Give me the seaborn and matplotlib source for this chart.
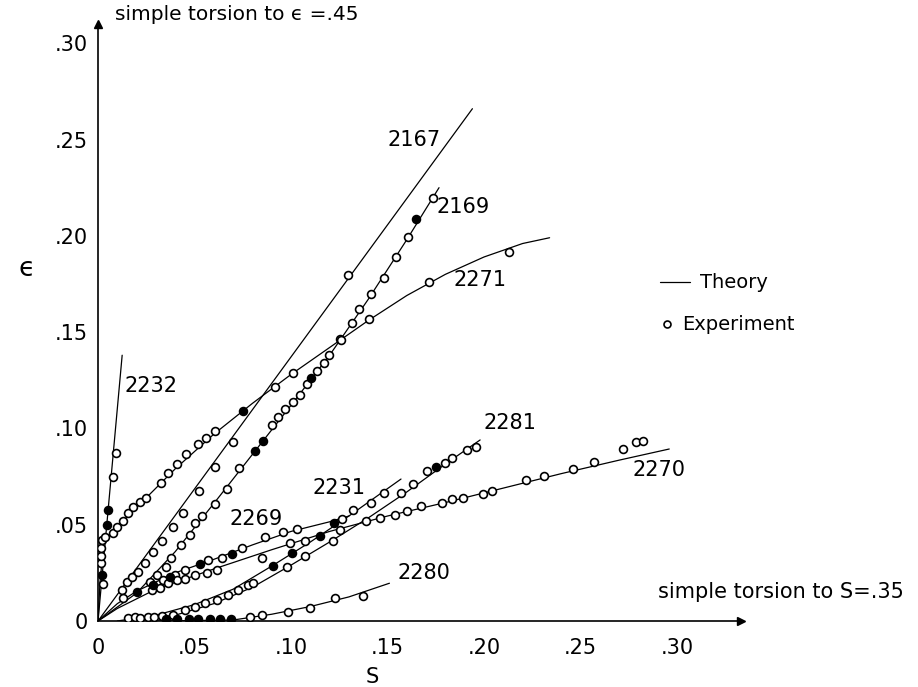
import numpy as np
import pandas as pd
import matplotlib
matplotlib.use("Agg")
import matplotlib.pyplot as plt
import seaborn as sns

# ---------------- data ----------------
# Theory curves: knot points
th_2232_x = [0.0, 0.0125]
th_2232_y = [0.0, 0.138]
th_2167_x = [0.0, 0.194]
th_2167_y = [0.0, 0.266]
th_2169_x = [0.0, 0.02, 0.04, 0.06, 0.08, 0.10, 0.12, 0.14, 0.16, 0.1767]
th_2169_y = [0.0, 0.0145, 0.036, 0.061, 0.0865, 0.112, 0.138, 0.167, 0.198, 0.225]
th_2271_x = [0.0, 0.001, 0.003, 0.008, 0.02, 0.04, 0.06, 0.08, 0.10, 0.12, 0.14, 0.16, 0.18, 0.20, 0.22, 0.234]
th_2271_y = [0.0, 0.020, 0.041, 0.047, 0.059, 0.079, 0.097, 0.113, 0.128, 0.142, 0.156, 0.169, 0.180, 0.189, 0.196, 0.199]
th_2269_x = [0.0, 0.01, 0.02, 0.04, 0.06, 0.08, 0.10, 0.12, 0.13]
th_2269_y = [0.0, 0.009, 0.0155, 0.025, 0.032, 0.0395, 0.0465, 0.0515, 0.0545]
th_2270_x = [0.0, 0.01, 0.03, 0.06, 0.09, 0.12, 0.15, 0.18, 0.21, 0.24, 0.27, 0.296]
th_2270_y = [0.0, 0.0065, 0.0165, 0.027, 0.037, 0.0465, 0.0545, 0.0615, 0.069, 0.0765, 0.0835, 0.0893]
th_2231_x = [0.01, 0.03, 0.05, 0.07, 0.09, 0.11, 0.13, 0.157]
th_2231_y = [0.0, 0.003, 0.0085, 0.0165, 0.0285, 0.041, 0.0545, 0.0737]
th_2281_x = [0.02, 0.04, 0.06, 0.08, 0.10, 0.12, 0.14, 0.16, 0.18, 0.198]
th_2281_y = [0.0, 0.003, 0.009, 0.0175, 0.029, 0.041, 0.0535, 0.067, 0.0815, 0.094]
th_2280_x = [0.03, 0.07, 0.09, 0.11, 0.13, 0.151]
th_2280_y = [0.0, 0.0005, 0.0035, 0.0075, 0.0125, 0.0196]

# Experimental points (open circles)
ex_2232_x = [0.0093, 0.0078, 0.0026]
ex_2232_y = [0.087, 0.075, 0.019]
ex_2271_x = [0.0015, 0.0015, 0.0017, 0.002, 0.0036, 0.0078, 0.0098, 0.013, 0.0156, 0.018, 0.0218, 0.025,
             0.0326, 0.036, 0.041, 0.0455, 0.052, 0.056, 0.0606, 0.0917, 0.1009, 0.1254, 0.1406, 0.1715, 0.213]
ex_2271_y = [0.030, 0.034, 0.038, 0.042, 0.0436, 0.0457, 0.049, 0.052, 0.056, 0.059, 0.062, 0.064,
             0.0716, 0.0768, 0.0815, 0.0867, 0.092, 0.095, 0.0988, 0.1217, 0.129, 0.1463, 0.1567, 0.176, 0.1916]
ex_2167_x = [0.0123, 0.0149, 0.0175, 0.0209, 0.0244, 0.0287, 0.033, 0.039, 0.0442, 0.0523, 0.0606, 0.070, 0.1295]
ex_2167_y = [0.016, 0.0204, 0.023, 0.0256, 0.0303, 0.036, 0.0417, 0.049, 0.056, 0.0675, 0.080, 0.093, 0.1797]
ex_2169_x = [0.0131, 0.027, 0.0304, 0.035, 0.0378, 0.043, 0.0477, 0.0503, 0.054, 0.0606, 0.0668, 0.073,
             0.09, 0.0934, 0.0969, 0.1009, 0.1047, 0.1085, 0.1136, 0.1171, 0.1198, 0.1257, 0.1314,
             0.1354, 0.1413, 0.148, 0.1544, 0.1606, 0.1736]
ex_2169_y = [0.0118, 0.0204, 0.0239, 0.0282, 0.0326, 0.0395, 0.0447, 0.0507, 0.0545, 0.061, 0.0685, 0.0794,
             0.1018, 0.1061, 0.110, 0.1139, 0.1173, 0.1231, 0.130, 0.134, 0.1381, 0.1459, 0.1546,
             0.1619, 0.1698, 0.178, 0.189, 0.1994, 0.2196]
ex_2269_x = [0.0339, 0.0399, 0.045, 0.0572, 0.064, 0.0745, 0.0865, 0.096, 0.1033, 0.1263]
ex_2269_y = [0.0213, 0.0239, 0.0265, 0.0317, 0.0325, 0.0377, 0.0435, 0.046, 0.0478, 0.053]
ex_2270_x = [0.0278, 0.0321, 0.0364, 0.0408, 0.045, 0.0503, 0.0563, 0.0615, 0.0848, 0.0995, 0.1073,
             0.1254, 0.139, 0.146, 0.154, 0.160, 0.1674, 0.178, 0.1834, 0.189, 0.1995, 0.204,
             0.2218, 0.231, 0.246, 0.257, 0.272, 0.279, 0.2824]
ex_2270_y = [0.0161, 0.017, 0.0199, 0.0213, 0.0216, 0.0239, 0.0248, 0.0265, 0.0325, 0.0403, 0.0417,
             0.0472, 0.0519, 0.0535, 0.055, 0.0571, 0.0597, 0.0613, 0.0633, 0.0639, 0.066, 0.0675,
             0.0732, 0.0753, 0.079, 0.0826, 0.0893, 0.093, 0.0935]
ex_2231_x = [0.0155, 0.019, 0.022, 0.026, 0.029, 0.033, 0.039, 0.045, 0.0503, 0.0554, 0.0615, 0.0675,
             0.0727, 0.0779, 0.132, 0.1415, 0.148]
ex_2231_y = [0.0016, 0.002, 0.0018, 0.002, 0.002, 0.0025, 0.003, 0.0057, 0.0075, 0.0092, 0.011, 0.0135,
             0.016, 0.0187, 0.0576, 0.0613, 0.0665]
ex_2281_x = [0.0805, 0.0977, 0.1073, 0.1216, 0.157, 0.163, 0.1705, 0.18, 0.1834, 0.191, 0.196]
ex_2281_y = [0.0199, 0.0278, 0.0337, 0.0417, 0.0666, 0.071, 0.078, 0.082, 0.0846, 0.0888, 0.0905]
ex_2280_x = [0.079, 0.0848, 0.0986, 0.1098, 0.1228, 0.1375]
ex_2280_y = [0.002, 0.0031, 0.0048, 0.0066, 0.0118, 0.013]

# Experimental points (filled dots)
fd_2232_x = [0.005, 0.0045, 0.0019]
fd_2232_y = [0.0576, 0.050, 0.024]
fd_2271_x = [0.075]
fd_2271_y = [0.109]
fd_2169_x = [0.0813, 0.0855, 0.1102, 0.165]
fd_2169_y = [0.0883, 0.0935, 0.126, 0.2087]
fd_2269_x = [0.020, 0.0287, 0.0373, 0.0528, 0.0693, 0.1224]
fd_2269_y = [0.0152, 0.0187, 0.023, 0.0296, 0.035, 0.0511]
fd_2270_x = [0.115]
fd_2270_y = [0.0441]
fd_2231_x = [0.0908, 0.1003]
fd_2231_y = [0.0286, 0.0355]
fd_2281_x = [0.175]
fd_2281_y = [0.080]
fd_2280_x = [0.035, 0.041, 0.047, 0.052, 0.058, 0.063, 0.069]
fd_2280_y = [0.001, 0.001, 0.0012, 0.001, 0.001, 0.001, 0.0012]

# Curve labels
label_names = ["2232", "2167", "2169", "2271", "2281", "2270", "2231", "2269", "2280"]
label_x = [0.0135, 0.150, 0.1756, 0.184, 0.200, 0.277, 0.111, 0.068, 0.155]
label_y = [0.122, 0.250, 0.215, 0.177, 0.103, 0.0784, 0.069, 0.053, 0.025]

x_ticks = [0.0, 0.05, 0.10, 0.15, 0.20, 0.25, 0.30]
x_tick_labels = ["0", ".05", ".10", ".15", ".20", ".25", ".30"]
y_ticks = [0.0, 0.05, 0.10, 0.15, 0.20, 0.25, 0.30]
y_tick_labels = ["0", ".05", ".10", ".15", ".20", ".25", ".30"]

# ---------------- build frames ----------------
theory = {
    "2232": (th_2232_x, th_2232_y), "2167": (th_2167_x, th_2167_y), "2169": (th_2169_x, th_2169_y),
    "2271": (th_2271_x, th_2271_y), "2269": (th_2269_x, th_2269_y), "2270": (th_2270_x, th_2270_y),
    "2231": (th_2231_x, th_2231_y), "2281": (th_2281_x, th_2281_y), "2280": (th_2280_x, th_2280_y),
}
open_pts = [
    (ex_2232_x, ex_2232_y), (ex_2271_x, ex_2271_y), (ex_2167_x, ex_2167_y), (ex_2169_x, ex_2169_y),
    (ex_2269_x, ex_2269_y), (ex_2270_x, ex_2270_y), (ex_2231_x, ex_2231_y), (ex_2281_x, ex_2281_y),
    (ex_2280_x, ex_2280_y),
]
filled_pts = [
    (fd_2232_x, fd_2232_y), (fd_2271_x, fd_2271_y), (fd_2169_x, fd_2169_y), (fd_2269_x, fd_2269_y),
    (fd_2270_x, fd_2270_y), (fd_2231_x, fd_2231_y), (fd_2281_x, fd_2281_y), (fd_2280_x, fd_2280_y),
]

th_df = pd.concat([pd.DataFrame({"s": x, "e": y, "test": k, "order": range(len(x))})
                   for k, (x, y) in theory.items()], ignore_index=True)
open_df = pd.concat([pd.DataFrame({"s": x, "e": y}) for x, y in open_pts], ignore_index=True)
fill_df = pd.concat([pd.DataFrame({"s": x, "e": y}) for x, y in filled_pts], ignore_index=True)

# ---------------- plot ----------------
sns.set_style("white")
plt.rcParams["font.family"] = ["DejaVu Sans"]
plt.rcParams["text.color"] = "black"
plt.rcParams["xtick.color"] = "black"
plt.rcParams["ytick.color"] = "black"
plt.rcParams["axes.labelcolor"] = "black"

fig = plt.figure(figsize=(9.18, 6.87), dpi=100)
ax = fig.add_axes([0.1068, 0.0961, 0.700, 0.869])

sns.lineplot(data=th_df, x="s", y="e", units="test", estimator=None, sort=False,
             color="black", linewidth=0.9, ax=ax, legend=False)
sns.scatterplot(data=open_df, x="s", y="e", marker="o", s=32, facecolor="white",
                edgecolor="black", linewidth=1.2, ax=ax, legend=False, zorder=3)
sns.scatterplot(data=fill_df, x="s", y="e", marker="o", s=32, color="black",
                edgecolor="black", linewidth=1.2, ax=ax, legend=False, zorder=3)

ax.set_xlim(0, 0.333)
ax.set_ylim(0, 0.31)
ax.set_xticks(x_ticks)
ax.set_xticklabels(x_tick_labels)
ax.set_yticks(y_ticks)
ax.set_yticklabels(y_tick_labels)
ax.tick_params(direction="in", length=7, width=1, labelsize=15, color="black", labelcolor="black")
ax.tick_params(axis="x", pad=12)
ax.tick_params(axis="y", pad=7)
ax.set_xlabel("")
ax.set_ylabel("")

for side in ["top", "right"]:
    ax.spines[side].set_visible(False)
for side in ["left", "bottom"]:
    ax.spines[side].set_color("black")
    ax.spines[side].set_linewidth(1.2)

# axis arrowheads
ax.plot(1, 0, ">", color="black", markersize=6, transform=ax.transAxes, clip_on=False)
ax.plot(0, 1, "^", color="black", markersize=6, transform=ax.transAxes, clip_on=False)

# curve labels
for name, lx, ly in zip(label_names, label_x, label_y):
    ax.text(lx, ly, name, fontsize=15, va="center", ha="left", color="black")

# axis labels
ax.text(-0.0368, 0.183, "ϵ", fontsize=19, ha="center", va="center", clip_on=False)
ax.text(0.142, -0.029, "S", fontsize=15, ha="center", va="center", clip_on=False)

# annotations
ax.text(0.0088, 0.315, "simple torsion to ϵ =.45", fontsize=14.5, ha="left", va="center", clip_on=False)
ax.text(0.290, 0.015, "simple torsion to S=.35", fontsize=15, ha="left", va="center", clip_on=False)

# legend (drawn manually like the original)
ax.plot([0.291, 0.307], [0.176, 0.176], color="black", linewidth=0.9, clip_on=False)
ax.text(0.312, 0.176, "Theory", fontsize=14, ha="left", va="center", clip_on=False)
ax.plot([0.295], [0.154], "o", markersize=5, markerfacecolor="white", markeredgecolor="black",
        markeredgewidth=1.2, clip_on=False)
ax.text(0.3026, 0.154, "Experiment", fontsize=14, ha="left", va="center", clip_on=False)

fig.savefig("out.png", dpi=100)
